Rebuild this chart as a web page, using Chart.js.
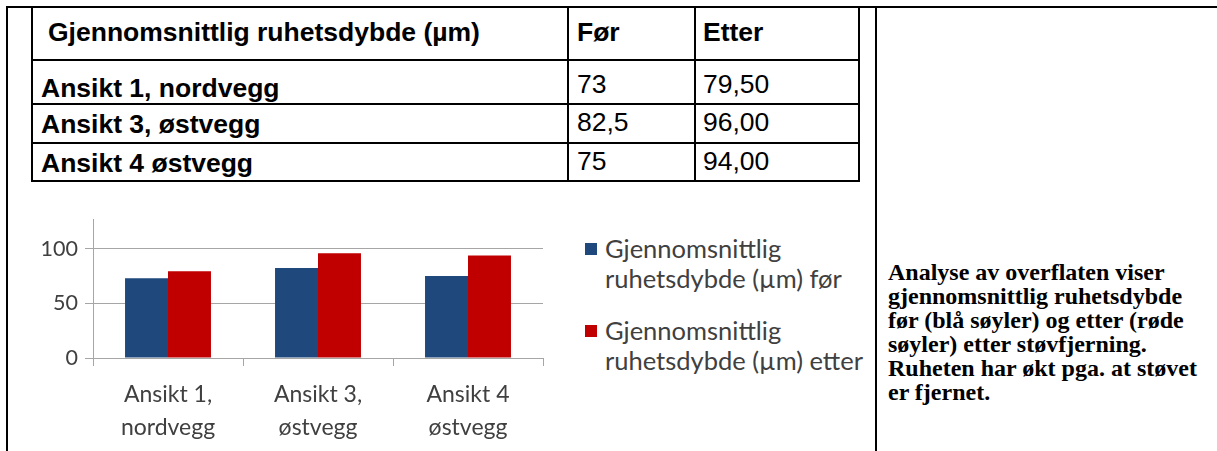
<!DOCTYPE html>
<html>
<head>
<meta charset="utf-8">
<script src="https://cdn.jsdelivr.net/npm/chart.js@4.4.1/dist/chart.umd.min.js"></script>
<style>
  html, body { margin: 0; padding: 0; background: #ffffff; }
  body { width: 1217px; height: 451px; position: relative; overflow: hidden; }
  .ln { position: absolute; background: #000; z-index: 5; }
  .t { position: absolute; white-space: nowrap; font-family: "Liberation Sans", Arial, sans-serif; font-size: 26.5px; line-height: 26px; color: #000; }
  .b { font-weight: bold; }
  #chartWrap { position: absolute; left: 0; top: 200px; width: 560px; height: 251px; }
  .leg { position: absolute; left: 585px; font-family: Lato, "Open Sans", sans-serif; font-size: 25.5px; line-height: 30px; color: #404040; white-space: nowrap; }
  .leg .sw { position: absolute; left: 0; width: 12px; height: 12px; }
  .leg .tx { position: absolute; left: 20px; top: 0; }
  #note { position: absolute; left: 888px; top: 260px; font-family: "Liberation Serif", "Times New Roman", serif; font-weight: bold; font-size: 24px; line-height: 24px; color: #000; white-space: nowrap; }
</style>
</head>
<body>
<!-- outer frame lines -->
<div class="ln" style="left:6px;top:6px;width:1211px;height:2px;"></div>
<div class="ln" style="left:6px;top:6px;width:2px;height:445px;"></div>
<div class="ln" style="left:875px;top:6px;width:2px;height:445px;"></div>
<!-- table lines -->
<div class="ln" style="left:31px;top:59px;width:829px;height:2px;"></div>
<div class="ln" style="left:31px;top:103px;width:829px;height:2px;"></div>
<div class="ln" style="left:31px;top:142px;width:829px;height:2px;"></div>
<div class="ln" style="left:31px;top:180px;width:829px;height:2px;"></div>
<div class="ln" style="left:31px;top:6px;width:2px;height:176px;"></div>
<div class="ln" style="left:567px;top:6px;width:2px;height:176px;"></div>
<div class="ln" style="left:694px;top:6px;width:2px;height:176px;"></div>
<div class="ln" style="left:858px;top:6px;width:2px;height:176px;"></div>

<div id="table"></div>

<div id="chartWrap"><canvas id="c" width="560" height="251"></canvas></div>
<div id="legend"></div>

<div id="note">Analyse av overflaten viser<br>gjennomsnittlig ruhetsdybde<br>før (blå søyler) og etter (røde<br>søyler) etter støvfjerning.<br>Ruheten har økt pga. at støvet<br>er fjernet.</div>

<script>
// ---- data ----
const tableHeader = ["Gjennomsnittlig ruhetsdybde (µm)", "Før", "Etter"];
const tableRows = ["Ansikt 1, nordvegg", "Ansikt 3, østvegg", "Ansikt 4 østvegg"];
const tableBefore = ["73", "82,5", "75"];
const tableAfter = ["79,50", "96,00", "94,00"];

const categories = [["Ansikt 1,", "nordvegg"], ["Ansikt 3,", "østvegg"], ["Ansikt 4", "østvegg"]];
const seriesNames = [["Gjennomsnittlig", "ruhetsdybde (µm) før"], ["Gjennomsnittlig", "ruhetsdybde (µm) etter"]];
const beforeValues = [73, 82.5, 75];
const afterValues = [79.5, 96, 94];
const yTickValues = [0, 50, 100];
const seriesColors = ["#1F497D", "#C00000"];

// ---- table text ----
const tbl = document.getElementById('table');
function addText(txt, left, baseline, bold) {
  const d = document.createElement('div');
  d.className = 't' + (bold ? ' b' : '');
  d.style.left = left + 'px';
  d.style.top = (baseline - 22) + 'px';
  d.textContent = txt;
  tbl.appendChild(d);
}
addText(tableHeader[0], 48, 41, true);
addText(tableHeader[1], 577, 41, true);
addText(tableHeader[2], 703, 41, true);
const labelBase = [97, 133, 172];
const valueBase = [93, 131, 170];
tableRows.forEach((r, i) => {
  addText(r, 41, labelBase[i], true);
  addText(tableBefore[i], 577, valueBase[i], false);
  addText(tableAfter[i], 703, valueBase[i], false);
});

// ---- legend (html) ----
const leg = document.getElementById('legend');
const legTops = [233, 315];
seriesNames.forEach((n, i) => {
  const item = document.createElement('div');
  item.className = 'leg';
  item.style.top = legTops[i] + 'px';
  const sw = document.createElement('div');
  sw.className = 'sw';
  sw.style.background = seriesColors[i];
  sw.style.top = '10px';
  const tx = document.createElement('div');
  tx.className = 'tx';
  tx.innerHTML = n.join('<br>');
  item.appendChild(sw); item.appendChild(tx);
  leg.appendChild(item);
});

// ---- chart ----
const fontFam = 'Lato, "Open Sans", sans-serif';
const gridCol = '#A6A6A6';
new Chart(document.getElementById('c').getContext('2d'), {
  type: 'bar',
  data: {
    labels: categories,
    datasets: [
      { label: seriesNames[0].join(' '), data: beforeValues, backgroundColor: seriesColors[0], categoryPercentage: 0.573, barPercentage: 1.0 },
      { label: seriesNames[1].join(' '), data: afterValues, backgroundColor: seriesColors[1], categoryPercentage: 0.573, barPercentage: 1.0 }
    ]
  },
  options: {
    responsive: false,
    animation: false,
    events: [],
    layout: { padding: { left: 0, right: 17, top: 15, bottom: 0 } },
    plugins: { legend: { display: false }, tooltip: { enabled: false }, title: { display: false } },
    scales: {
      x: {
        offset: true,
        grid: { offset: true, drawOnChartArea: false, drawTicks: true, tickLength: 8, color: gridCol, lineWidth: 1 },
        border: { color: gridCol, width: 1 },
        ticks: { font: { family: fontFam, size: 23, lineHeight: 1.45 }, color: '#404040', padding: 12, maxRotation: 0, autoSkip: false },
        afterFit: (s) => { s.height = 93; }
      },
      y: {
        min: 0,
        max: 126.5,
        afterBuildTicks: (s) => { s.ticks = yTickValues.map(v => ({ value: v })); },
        grid: { drawTicks: true, tickLength: 8, color: gridCol, lineWidth: 1 },
        border: { color: gridCol, width: 1 },
        ticks: { font: { family: fontFam, size: 21.5 }, color: '#404040', padding: 7 },
        afterFit: (s) => { s.width = 93; }
      }
    }
  }
});
</script>
</body>
</html>
